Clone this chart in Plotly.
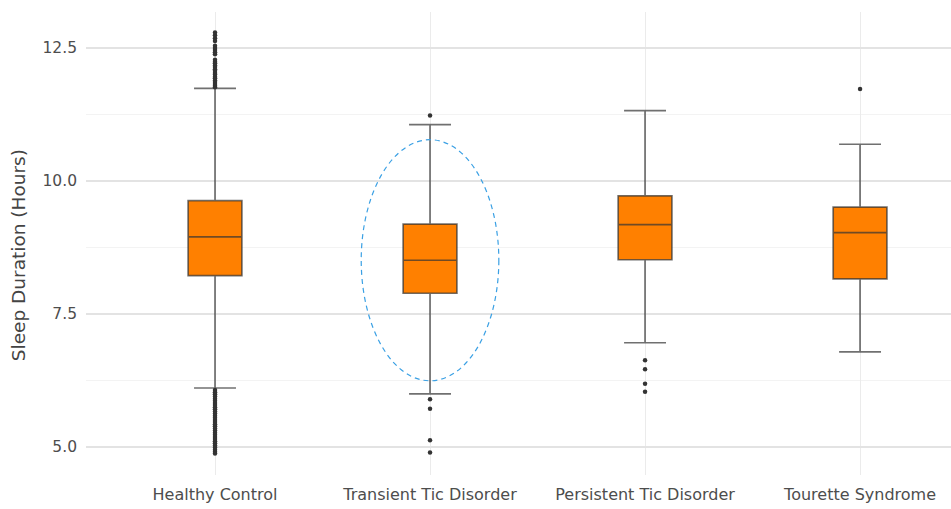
import plotly.graph_objects as go

# Groups and five-number summaries (hours of sleep)
groups = ["Healthy Control", "Transient Tic Disorder", "Persistent Tic Disorder", "Tourette Syndrome"]
lower_fence = [6.11, 6.00, 6.96, 6.79]
q1 = [8.22, 7.89, 8.52, 8.16]
median = [8.95, 8.51, 9.18, 9.03]
q3 = [9.63, 9.19, 9.72, 9.51]
upper_fence = [11.74, 11.06, 11.32, 10.69]

# Outlying observations per group
outliers_healthy = [11.76, 11.79, 11.82, 11.86, 11.89, 11.93, 11.96, 12.0, 12.03, 12.07,
                    12.1, 12.14, 12.17, 12.21, 12.24, 12.28, 12.38, 12.42, 12.46, 12.5,
                    12.54, 12.63, 12.68, 12.74, 12.79,
                    6.07, 6.03, 5.99, 5.95, 5.91, 5.87, 5.83, 5.79, 5.75, 5.71, 5.67,
                    5.63, 5.59, 5.55, 5.51, 5.47, 5.43, 5.39, 5.35, 5.31, 5.27, 5.23,
                    5.19, 5.15, 5.11, 5.07, 5.03, 4.99, 4.95, 4.91, 4.88]
outliers_transient = [11.23, 5.90, 5.72, 5.13, 4.90]
outliers_persistent = [6.63, 6.46, 6.19, 6.04]
outliers_tourette = [11.73]

# Highlight ring around the transient group
highlight_group = 1
highlight_half_width = 0.32
highlight_half_height = 2.265

y_ticks = [5.0, 7.5, 10.0, 12.5]
y_tick_labels = ["5.0", "7.5", "10.0", "12.5"]
y_title = "Sleep Duration (Hours)"

FONT = "DejaVu Sans"

fig = go.Figure()

fig.add_trace(go.Box(
    x=groups,
    q1=q1, median=median, q3=q3,
    lowerfence=lower_fence, upperfence=upper_fence,
    boxpoints=False,
    width=0.25,
    whiskerwidth=0.78,
    fillcolor="#FF8000",
    line=dict(color="rgba(51,51,51,0.7)", width=1.7),
    showlegend=False,
    hoverinfo="skip",
))

out_x, out_y = [], []
for g, vals in zip(groups, [outliers_healthy, outliers_transient, outliers_persistent, outliers_tourette]):
    out_x += [g] * len(vals)
    out_y += vals

fig.add_trace(go.Scatter(
    x=out_x, y=out_y, mode="markers",
    marker=dict(color="rgba(51,51,51,1)", size=4.5, line=dict(width=0)),
    showlegend=False, hoverinfo="skip",
))

cy = median[highlight_group]
fig.add_shape(
    type="circle", xref="x", yref="y",
    x0=highlight_group - highlight_half_width, x1=highlight_group + highlight_half_width,
    y0=cy - highlight_half_height, y1=cy + highlight_half_height,
    line=dict(color="#3aa0e4", width=1.2, dash="5px,4px"),
    fillcolor="rgba(0,0,0,0)",
)

# Rotated y-axis title, placed as paper-anchored text
fig.add_annotation(
    text=y_title, textangle=-90,
    xref="paper", yref="paper", x=-0.0785, y=0.475,
    xanchor="center", yanchor="middle", showarrow=False,
    font=dict(family=FONT, size=18.5, color="#444444"),
)

fig.update_layout(
    width=951, height=509,
    margin=dict(l=86, r=0, t=12, b=34),
    paper_bgcolor="white", plot_bgcolor="white",
    font=dict(family=FONT, color="#4d4d4d"),
    xaxis=dict(
        type="category",
        categoryorder="array", categoryarray=groups,
        range=[-0.6, 3.423],
        showgrid=True, gridcolor="#ebebeb", gridwidth=1.3,
        zeroline=False, showline=False, ticks="",
        ticklabelstandoff=8,
        tickfont=dict(family=FONT, size=16, color="#4d4d4d"),
    ),
    yaxis=dict(
        range=[4.475, 13.175],
        tickvals=y_ticks, ticktext=y_tick_labels,
        showgrid=True, gridcolor="#e3e3e3", gridwidth=1.5,
        minor=dict(dtick=1.25, tick0=0, showgrid=True, gridcolor="#f3f3f3", gridwidth=1),
        zeroline=False, showline=False, ticks="",
        ticklabelstandoff=8,
        tickfont=dict(family=FONT, size=15.5, color="#4d4d4d"),
    ),
)

fig.write_html("out.html")
